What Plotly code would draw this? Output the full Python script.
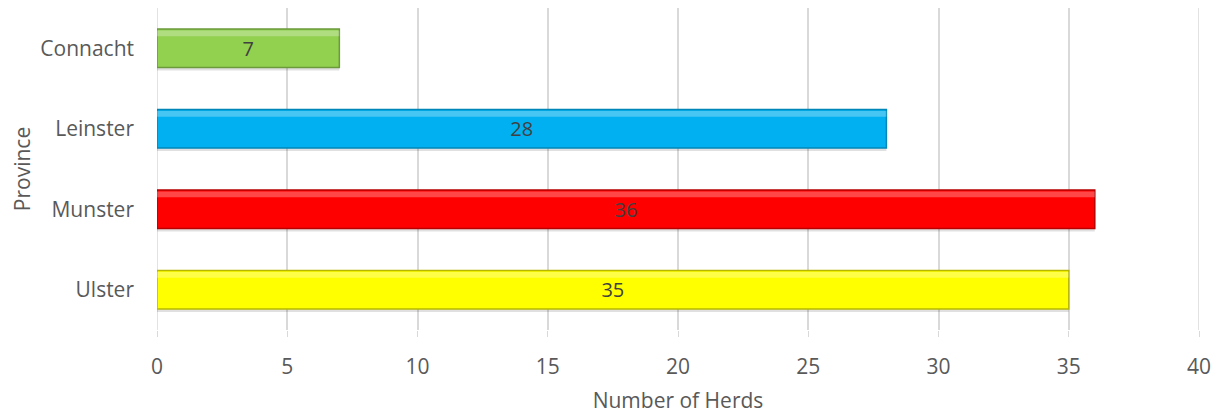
import plotly.graph_objects as go

# herds per province
provinces = ["Connacht", "Leinster", "Munster", "Ulster"]
herds = [7, 28, 36, 35]
bar_colors = ["#92d050", "#00b0f0", "#ff0000", "#ffff00"]
edge_colors = ["#6b9a3a", "#0086b8", "#b80000", "#b8b800"]

FONT = "Open Sans"
GREY = "#595959"
W = 0.48

fig = go.Figure()
# soft drop shadow under each bar
fig.add_trace(go.Bar(
    y=provinces, x=herds, orientation="h", width=W, offset=-W / 2 + 0.035,
    marker=dict(color="rgba(0,0,0,0.12)", line_width=0), hoverinfo="skip",
))
fig.add_trace(go.Bar(
    y=provinces, x=herds, orientation="h", width=W, offset=-W / 2,
    marker=dict(color=bar_colors, line=dict(color=edge_colors, width=1.5)),
    text=herds, textposition="inside", insidetextanchor="middle",
    textfont=dict(family=FONT, size=20, color="#404040"),
    hovertemplate="%{y}: %{x}<extra></extra>",
))
# light bevel strip along the top edge
fig.add_trace(go.Bar(
    y=provinces, x=herds, orientation="h", width=0.07, offset=-W / 2 + 0.02,
    marker=dict(color="rgba(255,255,255,0.28)", line_width=0), hoverinfo="skip",
))

fig.update_xaxes(range=[0, 40], dtick=5, showgrid=True, gridcolor="#d9d9d9", gridwidth=1.5,
                 zeroline=False, showline=False, automargin=False,
                 ticks="outside", ticklen=6, tickcolor="#d9d9d9", ticklabelstandoff=12,
                 tickfont=dict(family=FONT, size=21, color=GREY),
                 title=dict(text="Number of Herds", font=dict(family=FONT, size=21, color=GREY),
                            standoff=14))
fig.update_yaxes(autorange="reversed", showgrid=False, zeroline=False, showline=False,
                 automargin=False, ticks="", ticklabelstandoff=22,
                 tickfont=dict(family=FONT, size=21, color=GREY),
                 title=dict(text="Province", font=dict(family=FONT, size=21, color=GREY),
                            standoff=20))
# the page body adds 8px around the figure
fig.update_layout(width=1229, height=412, margin=dict(l=149, r=38, t=0, b=90),
                  plot_bgcolor="white", paper_bgcolor="white", showlegend=False,
                  barmode="overlay")
# gridlines at both ends of the range
fig.add_vline(x=0, line_color="#d9d9d9", line_width=1.5, layer="below")
fig.add_vline(x=40, line_color="#d9d9d9", line_width=1.5, layer="below")
fig.write_html("out.html")
